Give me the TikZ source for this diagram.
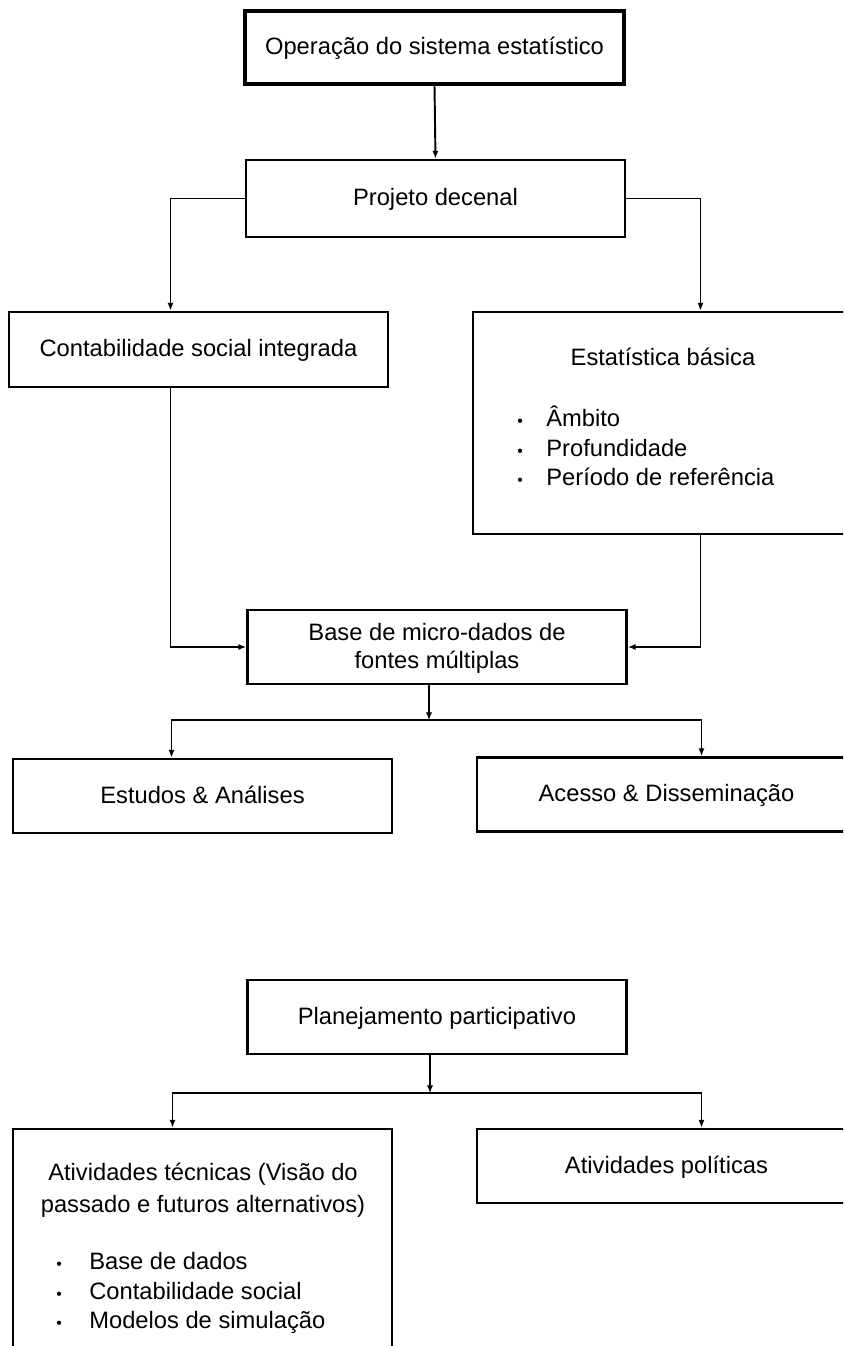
\documentclass[tikz,border=0pt]{standalone}
\usepackage{fontspec}
\setmainfont{Liberation Sans}
\usetikzlibrary{positioning,calc,arrows.meta}

\newcommand{\blt}[1]{\makebox[#1][l]{\fontsize{9}{9}\selectfont\textbullet}}

\begin{document}
\begin{tikzpicture}[x=0.02cm, y=-0.02cm, >={Latex[length=4.5pt,width=3.5pt]},
	box/.style={draw=black, line width=1.5pt, minimum width=7.58cm, minimum height=1.48cm, inner sep=0pt, align=center, text depth=0.3ex, font=\fontsize{13.5}{16}\selectfont},
	txt/.style={inner sep=0pt, font=\fontsize{13.5}{16.8}\selectfont},
	link/.style={line width=1.1pt}]
		\useasboundingbox (0,0) rectangle (843,1346);
		\clip (0,0) rectangle (843,1346);
		
		\node[box, line width=1.9pt, minimum height=1.46cm] (op) at (434.5,47.5) {Operação do sistema estatístico};
		\node[box, minimum height=1.54cm] (proj) at (435.5,198.5) {Projeto decenal};
		\node[box, minimum height=1.5cm] (cont) at (198.5,349.5) {Contabilidade social integrada};
		\node[box, minimum height=4.44cm] (est) at (662.5,423) {};
		\node[txt] (esttitle) at (663,357) {Estatística básica};
		\node[txt, anchor=west, align=left] (estlist) at (517,446) {\blt{0.58cm}Âmbito\\ \blt{0.58cm}Profundidade\\ \blt{0.58cm}Período de referência};
		\node[box] (base) at (437,647) {Base de micro-dados de\\fontes múltiplas};
		\node[box] (estudos) at (202.5,796) {Estudos \& Análises};
		\node[box] (acesso) at (666.5,794.5) {Acesso \& Disseminação};
		
		\node[box] (plan) at (437,1017) {Planejamento participativo};
		\node[box, minimum height=4.7cm] (ativ) at (202.5,1246.5) {};
		\node[txt, align=center, font=\fontsize{13.5}{18.2}\selectfont] (ativtitle) at (203,1190) {Atividades técnicas (Visão do\\passado e futuros alternativos)};
		\node[txt, anchor=west, align=left] (ativlist) at (56,1293) {\blt{0.66cm}Base de dados\\ \blt{0.66cm}Contabilidade social\\ \blt{0.66cm}Modelos de simulação};
		\node[box] (pol) at (666.5,1166) {Atividades políticas};
		
		\coordinate (bsplit) at ($(base.south)+(-8,35)$);
		\coordinate (psplit) at ($(plan.south)+(-7,38)$);
		
		\draw[link,->] (op.south) -- (proj.north);
		\draw[link,->] (proj.west) -| ($(cont.north)+(-28,0)$);
		\draw[link,->] (proj.east) -| ($(est.north)+(38,0)$);
		\draw[link,->] ($(cont.south)+(-28,0)$) |- (base.west);
		\draw[link,->] ($(est.south)+(38,0)$) |- (base.east);
		\draw[link,->] ($(base.south)+(-8,0)$) -- (bsplit);
		\draw[link,->] (bsplit) -| ($(estudos.north)+(-31,0)$);
		\draw[link,->] (bsplit) -| ($(acesso.north)+(35,0)$);
		\draw[link,->] ($(plan.south)+(-7,0)$) -- (psplit);
		\draw[link,->] (psplit) -| ($(ativ.north)+(-30,0)$);
		\draw[link,->] (psplit) -| ($(pol.north)+(35,0)$);
	\end{tikzpicture}
\end{document}
